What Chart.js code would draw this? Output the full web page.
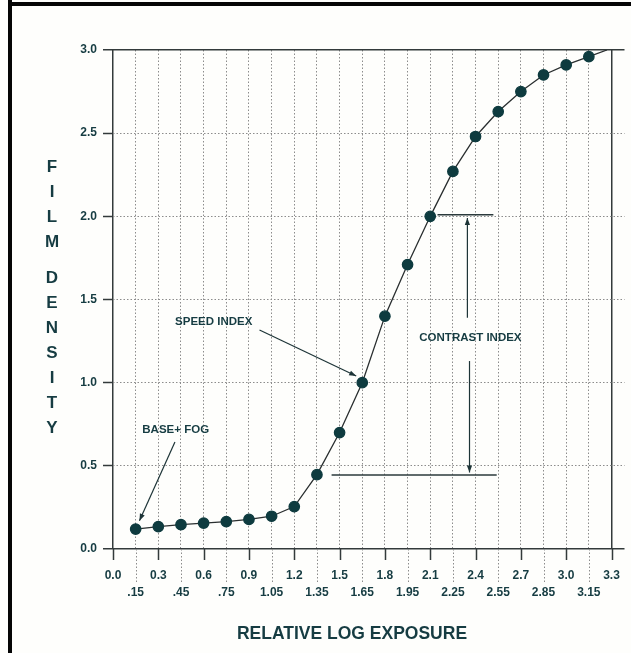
<!DOCTYPE html>
<html>
<head>
<meta charset="utf-8">
<script src="https://cdn.jsdelivr.net/npm/chart.js@4/dist/chart.umd.min.js"></script>
<style>
  html, body { margin: 0; padding: 0; background: #fefefc; }
  #wrap { position: relative; width: 631px; height: 653px; }
</style>
</head>
<body>
<div id="wrap"><canvas id="c"></canvas></div>
<script>
// ---------- data ----------
const exposure = [0.15, 0.30, 0.45, 0.60, 0.75, 0.90, 1.05, 1.20, 1.35, 1.50, 1.65,
                  1.80, 1.95, 2.10, 2.25, 2.40, 2.55, 2.70, 2.85, 3.00, 3.15, 3.27];
const density  = [0.12, 0.135, 0.146, 0.156, 0.165, 0.178, 0.197, 0.255, 0.447, 0.70, 1.00,
                  1.40, 1.71, 2.00, 2.27, 2.48, 2.63, 2.75, 2.85, 2.91, 2.96, 3.00];
const hasMarker = [1,1,1,1,1,1,1,1,1,1,1,1,1,1,1,1,1,1,1,1,1,0];

const xTickValues  = [0, 0.15, 0.3, 0.45, 0.6, 0.75, 0.9, 1.05, 1.2, 1.35, 1.5, 1.65,
                      1.8, 1.95, 2.1, 2.25, 2.4, 2.55, 2.7, 2.85, 3.0, 3.15, 3.3];
const xMajorLabels = ['0.0','0.3','0.6','0.9','1.2','1.5','1.8','2.1','2.4','2.7','3.0','3.3'];
const xMinorLabels = ['.15','.45','.75','1.05','1.35','1.65','1.95','2.25','2.55','2.85','3.15'];
const yTickValues  = [0, 0.5, 1.0, 1.5, 2.0, 2.5, 3.0];
const yTickLabels  = ['0.0','0.5','1.0','1.5','2.0','2.5','3.0'];

const yTitle = 'FILM DENSITY';
const xTitle = 'RELATIVE LOG EXPOSURE';
const noteTexts = ['BASE+ FOG', 'SPEED INDEX', 'CONTRAST INDEX'];

// ---------- styling ----------
const INK = '#163c42';
const DARK = '#333a3b';
const DOT = '#8c8c8c';
const isXEdge = v => Math.abs(v) < 1e-6 || Math.abs(v - 3.3) < 1e-6;
const isYEdge = v => Math.abs(v) < 1e-6 || Math.abs(v - 3.0) < 1e-6;

const extras = {
  id: 'extras',
  beforeDraw(chart) {
    const ctx = chart.ctx;
    ctx.save();
    ctx.fillStyle = '#fefefc';
    ctx.fillRect(0, 0, chart.width, chart.height);
    ctx.restore();
  },
  afterDraw(chart) {
    const ctx = chart.ctx;
    const xs = chart.scales.x, ys = chart.scales.y;
    const X = v => xs.getPixelForValue(v), Y = v => ys.getPixelForValue(v);
    const base = Y(0);
    ctx.save();
    // x tick marks below the axis
    xTickValues.forEach((v, i) => {
      const p = Math.round(X(v)) + 0.5;
      ctx.beginPath();
      if (i % 2 === 0) {
        ctx.setLineDash([]);
        ctx.strokeStyle = DARK; ctx.lineWidth = 1.5;
        ctx.moveTo(p, base); ctx.lineTo(p, base + 11);
      } else {
        ctx.setLineDash([1.5, 2]);
        ctx.strokeStyle = DOT; ctx.lineWidth = 1;
        ctx.moveTo(p, base); ctx.lineTo(p, base + 34);
      }
      ctx.stroke();
    });
    ctx.setLineDash([]);

    // annotations
    function arrow(x1, y1, x2, y2) {
      const a = X(x1), b = Y(y1), c = X(x2), d = Y(y2);
      ctx.strokeStyle = '#1d3437'; ctx.fillStyle = '#1d3437'; ctx.lineWidth = 1.2;
      ctx.beginPath(); ctx.moveTo(a, b); ctx.lineTo(c, d); ctx.stroke();
      const ang = Math.atan2(d - b, c - a), L = 7, W = 2.6;
      ctx.beginPath();
      ctx.moveTo(c, d);
      ctx.lineTo(c - L * Math.cos(ang) + W * Math.sin(ang), d - L * Math.sin(ang) - W * Math.cos(ang));
      ctx.lineTo(c - L * Math.cos(ang) - W * Math.sin(ang), d - L * Math.sin(ang) + W * Math.cos(ang));
      ctx.closePath(); ctx.fill();
    }
    function hline(x1, x2, y) {
      ctx.strokeStyle = '#2b3a3c'; ctx.lineWidth = 1.5;
      ctx.beginPath(); ctx.moveTo(X(x1), Y(y)); ctx.lineTo(X(x2), Y(y)); ctx.stroke();
    }
    ctx.font = 'bold 11.5px "Liberation Sans", Arial, sans-serif';
    ctx.fillStyle = INK; ctx.textAlign = 'center'; ctx.textBaseline = 'middle';
    ctx.fillText(noteTexts[0], X(0.415), Y(0.716));
    ctx.fillText(noteTexts[1], X(0.667), Y(1.365));
    ctx.fillText(noteTexts[2], X(2.366), Y(1.27));
    arrow(0.41, 0.643, 0.175, 0.17);
    arrow(0.97, 1.317, 1.61, 1.04);
    hline(2.148, 2.518, 2.01);
    arrow(2.346, 1.39, 2.346, 1.99);
    arrow(2.36, 1.13, 2.36, 0.46);
    hline(1.447, 2.54, 0.445);

    // axis titles
    ctx.fillStyle = INK;
    ctx.font = 'bold 17px "Liberation Sans", Arial, sans-serif';
    ctx.textAlign = 'center'; ctx.textBaseline = 'middle';
    let yy = 167;
    for (const ch of yTitle) {
      if (ch === ' ') { yy += 11; continue; }
      ctx.fillText(ch, 52, yy);
      yy += 25;
    }
    ctx.font = 'bold 17.5px "Liberation Sans", Arial, sans-serif';
    ctx.fillText(xTitle, 352, 634);

    // scan frame
    ctx.fillStyle = '#050505';
    ctx.fillRect(8, 0, 4, chart.height);
    ctx.fillRect(8, 2, chart.width - 8, 4);
    ctx.restore();
  }
};

function noPad(s) { s.paddingLeft = 0; s.paddingRight = 0; s.paddingTop = 0; s.paddingBottom = 0; }

new Chart(document.getElementById('c'), {
  type: 'scatter',
  data: {
    datasets: [{
      data: exposure.map((x, i) => ({ x, y: density[i] })),
      showLine: true,
      borderColor: '#2a2f30',
      borderWidth: 1.3,
      pointBackgroundColor: '#0e3b3f',
      pointBorderColor: '#0e3b3f',
      pointRadius: ctx => hasMarker[ctx.dataIndex] ? 5.2 : 0,
      pointHoverRadius: ctx => hasMarker[ctx.dataIndex] ? 5.2 : 0,
      tension: 0
    }]
  },
  options: {
    responsive: true,
    maintainAspectRatio: false,
    animation: false,
    layout: { padding: { top: 50, right: 5, left: 0, bottom: 0 } },
    plugins: { legend: { display: false }, tooltip: { enabled: false } },
    scales: {
      x: {
        type: 'linear',
        min: 0,
        max: 3.386,
        afterBuildTicks: s => { s.ticks = xTickValues.map(v => ({ value: v })); },
        afterFit: s => { s.height = 104; noPad(s); },
        grid: {
          drawTicks: false,
          color: c => isXEdge(c.tick.value) ? DARK : DOT,
          lineWidth: c => isXEdge(c.tick.value) ? 1.5 : 1
        },
        border: { display: false, dash: c => isXEdge(c.tick.value) ? [] : [1.5, 2] },
        ticks: {
          autoSkip: false, maxRotation: 0, minRotation: 0,
          padding: 18.5,
          color: INK,
          font: { family: '"Liberation Sans", Arial, sans-serif', size: 12, weight: 'bold', lineHeight: 1.42 },
          callback: (v, i) => i % 2 === 0 ? xMajorLabels[i / 2] : ['', xMinorLabels[(i - 1) / 2]]
        }
      },
      y: {
        min: 0,
        max: 3,
        afterBuildTicks: s => { s.ticks = yTickValues.map(v => ({ value: v })); },
        afterFit: s => { s.width = 113; noPad(s); },
        grid: {
          tickLength: 10,
          tickColor: DARK,
          tickWidth: 1.5,
          color: c => isYEdge(c.tick.value) ? DARK : DOT,
          lineWidth: c => isYEdge(c.tick.value) ? 1.5 : 1
        },
        border: { display: false, dash: c => isYEdge(c.tick.value) ? [] : [1.5, 2] },
        ticks: {
          padding: 6,
          color: INK,
          font: { family: '"Liberation Sans", Arial, sans-serif', size: 12, weight: 'bold' },
          callback: (v, i) => yTickLabels[i]
        }
      }
    }
  },
  plugins: [extras]
});
</script>
</body>
</html>
